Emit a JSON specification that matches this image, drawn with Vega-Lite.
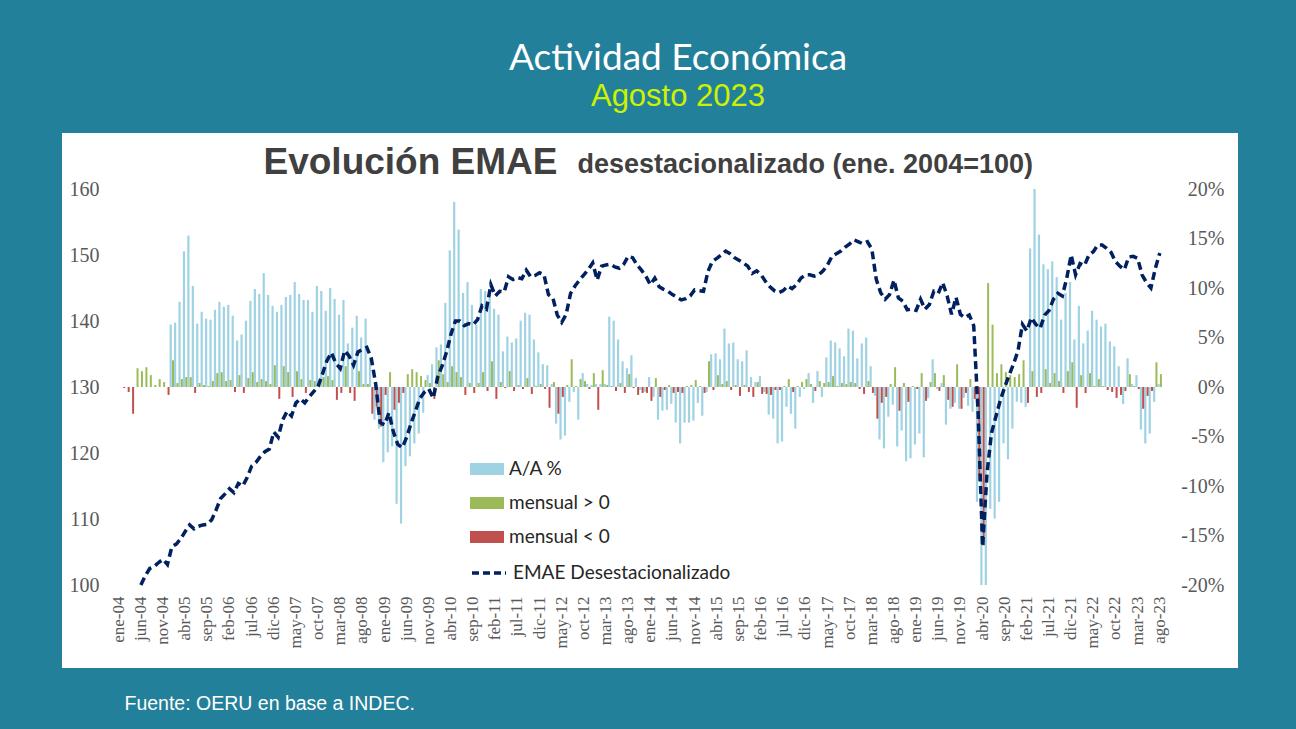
{
"$schema": "https://vega.github.io/schema/vega-lite/v6.json",
"width": 1176, "height": 535,
"autosize": {"type": "none"},
"padding": {"left": 62, "top": 133, "right": 58, "bottom": 61},
"background": "#23809a",
"view": {"fill": "#ffffff", "stroke": null},
"title": {"text": "Actividad Económica", "subtitle": "Agosto 2023", "anchor": "middle", "frame": "group", "dx": 28, "offset": 20, "color": "#ffffff", "font": "Lato", "fontSize": 37, "fontWeight": "normal", "subtitleColor": "#ccf200", "subtitleFont": "Liberation Sans", "subtitleFontSize": 31, "subtitlePadding": 4},
"data": {"values": [
{"m":"ene-04","e":99.4},{"m":"feb-04","e":99.3,"mn":-0.1},{"m":"mar-04","e":98.8,"mn":-0.5},{"m":"abr-04","e":96.1,"mn":-2.7},{"m":"may-04","e":97.9,"mp":1.9},{"m":"jun-04","e":99.6,"mp":1.6},{"m":"jul-04","e":101.4,"mp":2.0},{"m":"ago-04","e":102.5,"mp":1.2},{"m":"sep-04","e":102.8,"mp":0.2},{"m":"oct-04","e":103.4,"mp":0.8},{"m":"nov-04","e":103.9,"mp":0.5},{"m":"dic-04","e":103.1,"mn":-0.8},
{"m":"ene-05","e":105.8,"aa":6.3,"mp":2.7},{"m":"feb-05","e":106.2,"aa":6.5,"mp":0.4},{"m":"mar-05","e":107.0,"aa":8.6,"mp":0.8},{"m":"abr-05","e":108.1,"aa":13.7,"mp":1.0},{"m":"may-05","e":109.1,"aa":15.3,"mp":1.0},{"m":"jun-05","e":108.5,"aa":10.2,"mn":-0.6},{"m":"jul-05","e":108.9,"aa":6.4,"mp":0.4},{"m":"ago-05","e":109.1,"aa":7.6,"mp":0.2},{"m":"sep-05","e":109.2,"aa":6.9,"mp":0.1},{"m":"oct-05","e":109.9,"aa":6.8,"mp":0.6},{"m":"nov-05","e":111.4,"aa":7.8,"mp":1.4},{"m":"dic-05","e":113.1,"aa":8.6,"mp":1.5},
{"m":"ene-06","e":113.8,"aa":8.1,"mp":0.6},{"m":"feb-06","e":114.6,"aa":8.3,"mp":0.7},{"m":"mar-06","e":114.0,"aa":7.2,"mn":-0.5},{"m":"abr-06","e":115.4,"aa":4.7,"mp":1.2},{"m":"may-06","e":115.0,"aa":5.3,"mn":-0.6},{"m":"jun-06","e":116.3,"aa":6.7,"mp":0.9},{"m":"jul-06","e":118.0,"aa":8.7,"mp":1.5},{"m":"ago-06","e":118.6,"aa":9.9,"mp":0.5},{"m":"sep-06","e":119.5,"aa":9.4,"mp":0.8},{"m":"oct-06","e":120.2,"aa":11.5,"mp":0.6},{"m":"nov-06","e":120.6,"aa":9.3,"mp":0.3},{"m":"dic-06","e":123.2,"aa":8.2,"mp":2.2},
{"m":"ene-07","e":122.4,"aa":7.6,"mn":-1.2},{"m":"feb-07","e":125.0,"aa":8.3,"mp":2.1},{"m":"mar-07","e":126.3,"aa":9.1,"mp":1.5},{"m":"abr-07","e":125.6,"aa":9.3,"mn":-1.0},{"m":"may-07","e":127.6,"aa":10.6,"mp":1.6},{"m":"jun-07","e":128.2,"aa":9.4,"mp":0.8},{"m":"jul-07","e":127.6,"aa":8.8,"mn":-0.6},{"m":"ago-07","e":128.5,"aa":8.8,"mp":0.7},{"m":"sep-07","e":129.3,"aa":7.6,"mp":0.6},{"m":"oct-07","e":130.1,"aa":10.2,"mp":0.6},{"m":"nov-07","e":132.0,"aa":9.7,"mp":1.0},{"m":"dic-07","e":134.0,"aa":7.7,"mp":1.1},
{"m":"ene-08","e":135.2,"aa":10.0,"mp":0.7},{"m":"feb-08","e":133.6,"aa":8.9,"mn":-1.3},{"m":"mar-08","e":132.8,"aa":7.3,"mn":-0.6},{"m":"abr-08","e":135.5,"aa":8.8,"mp":2.1},{"m":"may-08","e":134.7,"aa":4.4,"mn":-0.6},{"m":"jun-08","e":133.3,"aa":6.0,"mn":-1.4},{"m":"jul-08","e":135.3,"aa":7.2,"mp":1.6},{"m":"ago-08","e":135.7,"aa":5.0,"mp":0.3},{"m":"sep-08","e":136.0,"aa":6.9,"mp":0.3},{"m":"oct-08","e":134.4,"aa":3.0,"mn":-2.7},{"m":"nov-08","e":130.5,"aa":-3.3,"mn":-2.0},{"m":"dic-08","e":124.6,"aa":-4.2,"mn":-4.0},
{"m":"ene-09","e":124.3,"aa":-7.6,"mn":-0.8},{"m":"feb-09","e":126.1,"aa":-6.6,"mp":1.5},{"m":"mar-09","e":123.2,"aa":-6.0,"mn":-2.3},{"m":"abr-09","e":121.3,"aa":-11.8,"mn":-1.6},{"m":"may-09","e":120.8,"aa":-13.8,"mn":-0.6},{"m":"jun-09","e":122.4,"aa":-8.0,"mp":1.3},{"m":"jul-09","e":124.5,"aa":-7.0,"mp":1.8},{"m":"ago-09","e":126.4,"aa":-5.7,"mp":1.5},{"m":"sep-09","e":128.3,"aa":-4.7,"mp":1.1},{"m":"oct-09","e":129.2,"aa":-2.6,"mp":0.7},{"m":"nov-09","e":129.7,"aa":1.2,"mp":0.4},{"m":"dic-09","e":128.3,"aa":2.3,"mn":-1.2},
{"m":"ene-10","e":131.5,"aa":4.0,"mp":2.7},{"m":"feb-10","e":133.2,"aa":4.3,"mp":1.3},{"m":"mar-10","e":135.3,"aa":8.5,"mp":0.5},{"m":"abr-10","e":138.0,"aa":13.8,"mp":2.1},{"m":"may-10","e":140.0,"aa":18.7,"mp":1.5},{"m":"jun-10","e":140.0,"aa":15.9,"mp":1.0},{"m":"jul-10","e":139.3,"aa":9.5,"mn":-0.8},{"m":"ago-10","e":139.6,"aa":10.6,"mp":0.4},{"m":"sep-10","e":139.4,"aa":8.3,"mn":-0.6},{"m":"oct-10","e":140.2,"aa":6.3,"mp":0.4},{"m":"nov-10","e":142.3,"aa":9.9,"mp":1.5},{"m":"dic-10","e":141.8,"aa":9.7,"mn":-0.4},
{"m":"ene-11","e":145.5,"aa":9.4,"mp":2.6},{"m":"feb-11","e":143.8,"aa":7.9,"mn":-1.2},{"m":"mar-11","e":144.5,"aa":7.3,"mp":0.5},{"m":"abr-11","e":144.4,"aa":3.6,"mn":-0.1},{"m":"may-11","e":146.7,"aa":5.1,"mp":1.6},{"m":"jun-11","e":146.3,"aa":4.5,"mn":-0.4},{"m":"jul-11","e":146.6,"aa":4.9,"mp":0.2},{"m":"ago-11","e":146.4,"aa":6.7,"mn":-0.2},{"m":"sep-11","e":147.7,"aa":7.5,"mp":0.9},{"m":"oct-11","e":146.7,"aa":7.3,"mn":-0.7},{"m":"nov-11","e":146.9,"aa":4.8,"mp":0.1},{"m":"dic-11","e":147.3,"aa":3.5,"mp":0.3},
{"m":"ene-12","e":147.0,"aa":2.3,"mn":-0.2},{"m":"feb-12","e":144.0,"aa":2.2,"mn":-2.1},{"m":"mar-12","e":143.5,"aa":0.3,"mp":0.5},{"m":"abr-12","e":140.9,"aa":-3.7,"mn":-2.7},{"m":"may-12","e":139.8,"aa":-5.3,"mn":-1.0},{"m":"jun-12","e":141.0,"aa":-4.9,"mp":0.2},{"m":"jul-12","e":144.2,"aa":-1.5,"mp":2.8},{"m":"ago-12","e":145.3,"aa":-0.5,"mp":0.1},{"m":"sep-12","e":146.2,"aa":-3.3,"mp":0.8},{"m":"oct-12","e":147.0,"aa":1.4,"mp":0.6},{"m":"nov-12","e":147.8,"aa":0.3,"mn":-0.2},{"m":"dic-12","e":148.8,"aa":0.2,"mp":1.4},
{"m":"ene-13","e":146.2,"aa":0.3,"mn":-2.3},{"m":"feb-13","e":148.3,"aa":0.3,"mp":1.7},{"m":"mar-13","e":148.5,"aa":0.3,"mp":0.2},{"m":"abr-13","e":148.6,"aa":7.1,"mp":0.1},{"m":"may-13","e":148.2,"aa":6.7,"mn":-0.4},{"m":"jun-13","e":148.0,"aa":4.8,"mp":0.4},{"m":"jul-13","e":148.6,"aa":2.6,"mn":-0.6},{"m":"ago-13","e":149.8,"aa":1.9,"mp":1.3},{"m":"sep-13","e":149.6,"aa":3.2,"mn":-0.1},{"m":"oct-13","e":148.5,"aa":0.9,"mn":-0.8},{"m":"nov-13","e":147.7,"aa":-0.3,"mn":-0.6},{"m":"dic-13","e":146.8,"aa":-0.5,"mn":-0.6},
{"m":"ene-14","e":145.5,"aa":1.0,"mn":-1.4},{"m":"feb-14","e":146.5,"aa":-1.0,"mp":0.9},{"m":"mar-14","e":145.2,"aa":-3.3,"mn":-1.0},{"m":"abr-14","e":144.8,"aa":-2.4,"mn":-0.3},{"m":"may-14","e":144.5,"aa":-2.3,"mp":0.2},{"m":"jun-14","e":144.0,"aa":-1.7,"mn":-0.6},{"m":"jul-14","e":143.6,"aa":-3.6,"mn":-0.5},{"m":"ago-14","e":143.2,"aa":-5.7,"mn":-0.6},{"m":"sep-14","e":143.4,"aa":-3.6,"mp":0.1},{"m":"oct-14","e":143.8,"aa":-3.6,"mp":0.2},{"m":"nov-14","e":144.7,"aa":-3.4,"mp":0.7},{"m":"dic-14","e":144.6,"aa":-1.6,"mp":0.1},
{"m":"ene-15","e":144.5,"aa":-2.9,"mn":-0.6},{"m":"feb-15","e":147.5,"aa":-0.5,"mp":2.6},{"m":"mar-15","e":149.0,"aa":3.3,"mn":-0.3},{"m":"abr-15","e":149.5,"aa":3.4,"mp":1.2},{"m":"may-15","e":150.0,"aa":2.8,"mp":0.3},{"m":"jun-15","e":150.6,"aa":5.9,"mp":0.6},{"m":"jul-15","e":150.2,"aa":4.4,"mn":-0.3},{"m":"ago-15","e":149.6,"aa":4.5,"mp":0.2},{"m":"sep-15","e":149.2,"aa":2.8,"mn":-0.9},{"m":"oct-15","e":148.8,"aa":2.6,"mp":0.2},{"m":"nov-15","e":148.3,"aa":3.7,"mn":-0.5},{"m":"dic-15","e":147.2,"aa":1.0,"mn":-1.0},
{"m":"ene-16","e":147.6,"aa":0.5,"mp":0.5},{"m":"feb-16","e":147.0,"aa":1.1,"mn":-0.7},{"m":"mar-16","e":146.0,"aa":-0.5,"mn":-0.7},{"m":"abr-16","e":145.2,"aa":-2.8,"mn":-0.8},{"m":"may-16","e":144.6,"aa":-3.2,"mn":-0.3},{"m":"jun-16","e":144.3,"aa":-5.7,"mn":-0.3},{"m":"jul-16","e":144.6,"aa":-5.5,"mp":0.1},{"m":"ago-16","e":145.3,"aa":-2.0,"mp":0.8},{"m":"sep-16","e":144.9,"aa":-2.7,"mn":-0.5},{"m":"oct-16","e":145.5,"aa":-4.2,"mp":0.1},{"m":"nov-16","e":146.5,"aa":-1.0,"mp":0.5},{"m":"dic-16","e":147.0,"aa":-0.2,"mp":0.8},
{"m":"ene-17","e":147.0,"aa":1.4,"mp":0.3},{"m":"feb-17","e":146.8,"aa":-1.6,"mn":-0.4},{"m":"mar-17","e":147.0,"aa":1.6,"mp":0.6},{"m":"abr-17","e":147.6,"aa":-1.0,"mp":0.4},{"m":"may-17","e":148.5,"aa":3.0,"mp":0.5},{"m":"jun-17","e":149.8,"aa":4.7,"mp":1.1},{"m":"jul-17","e":150.2,"aa":4.5,"mp":0.1},{"m":"ago-17","e":150.6,"aa":3.9,"mp":0.4},{"m":"sep-17","e":151.2,"aa":3.1,"mp":0.3},{"m":"oct-17","e":151.7,"aa":5.9,"mp":0.5},{"m":"nov-17","e":152.3,"aa":5.7,"mp":0.4},{"m":"dic-17","e":152.0,"aa":2.9,"mn":-0.2},
{"m":"ene-18","e":151.7,"aa":4.4,"mn":-0.7},{"m":"feb-18","e":152.0,"aa":5.0,"mp":0.6},{"m":"mar-18","e":150.9,"aa":2.1,"mn":-0.6},{"m":"abr-18","e":146.3,"aa":-0.9,"mn":-3.2},{"m":"may-18","e":144.3,"aa":-5.3,"mn":-1.6},{"m":"jun-18","e":143.3,"aa":-6.2,"mn":-1.0},{"m":"jul-18","e":144.0,"aa":-3.0,"mp":0.3},{"m":"ago-18","e":146.2,"aa":-1.8,"mp":2.0},{"m":"sep-18","e":143.5,"aa":-6.0,"mn":-2.4},{"m":"oct-18","e":143.0,"aa":-4.4,"mp":0.4},{"m":"nov-18","e":141.7,"aa":-7.5,"mn":-1.5},{"m":"dic-18","e":141.8,"aa":-7.2,"mp":0.1},
{"m":"ene-19","e":141.6,"aa":-5.8,"mn":-0.2},{"m":"feb-19","e":143.3,"aa":-4.7,"mp":1.4},{"m":"mar-19","e":141.8,"aa":-7.1,"mn":-1.4},{"m":"abr-19","e":142.5,"aa":-1.1,"mp":0.5},{"m":"may-19","e":144.5,"aa":2.8,"mp":1.4},{"m":"jun-19","e":144.2,"aa":-0.2,"mn":-0.4},{"m":"jul-19","e":145.8,"aa":0.4,"mp":1.2},{"m":"ago-19","e":143.8,"aa":-3.8,"mn":-1.3},{"m":"sep-19","e":141.0,"aa":-2.2,"mn":-2.0},{"m":"oct-19","e":143.6,"aa":-1.6,"mp":2.3},{"m":"nov-19","e":141.0,"aa":-2.2,"mn":-2.2},{"m":"dic-19","e":140.5,"aa":-1.1,"mn":-0.6},
{"m":"ene-20","e":140.9,"aa":-1.9,"mp":0.8},{"m":"feb-20","e":139.3,"aa":-2.5,"mn":-1.2},{"m":"mar-20","e":126.0,"aa":-11.6,"mn":-9.5},{"m":"abr-20","e":105.8,"aa":-26.0,"mn":-16.0},{"m":"may-20","e":116.9,"aa":-20.6,"mp":10.5},{"m":"jun-20","e":123.0,"aa":-12.3,"mp":6.3},{"m":"jul-20","e":125.5,"aa":-13.3,"mp":1.4},{"m":"ago-20","e":128.0,"aa":-11.6,"mp":2.3},{"m":"sep-20","e":130.0,"aa":-5.7,"mp":1.5},{"m":"oct-20","e":131.8,"aa":-7.3,"mp":1.2},{"m":"nov-20","e":133.5,"aa":-4.2,"mp":1.0},{"m":"dic-20","e":135.5,"aa":-1.5,"mp":1.3},
{"m":"ene-21","e":139.5,"aa":-1.6,"mp":2.7},{"m":"feb-21","e":138.5,"aa":-2.0,"mn":-1.6},{"m":"mar-21","e":140.5,"aa":14.0,"mp":1.6},{"m":"abr-21","e":139.5,"aa":29.0,"mn":-1.0},{"m":"may-21","e":138.9,"aa":15.4,"mn":-0.6},{"m":"jun-21","e":140.9,"aa":12.4,"mp":1.8},{"m":"jul-21","e":141.6,"aa":11.9,"mp":0.4},{"m":"ago-21","e":143.3,"aa":12.7,"mp":1.4},{"m":"sep-21","e":144.2,"aa":11.1,"mp":0.6},{"m":"oct-21","e":143.8,"aa":6.8,"mn":-0.6},{"m":"nov-21","e":146.5,"aa":9.5,"mp":1.6},{"m":"dic-21","e":150.0,"aa":10.6,"mp":2.5},
{"m":"ene-22","e":147.0,"aa":4.8,"mn":-2.1},{"m":"feb-22","e":148.7,"aa":8.2,"mp":1.2},{"m":"mar-22","e":148.4,"aa":4.4,"mn":-0.6},{"m":"abr-22","e":150.0,"aa":5.7,"mp":1.4},{"m":"may-22","e":150.5,"aa":7.7,"mp":0.1},{"m":"jun-22","e":151.5,"aa":6.8,"mp":0.8},{"m":"jul-22","e":151.5,"aa":6.1,"mp":0.1},{"m":"ago-22","e":151.0,"aa":6.4,"mn":-0.3},{"m":"sep-22","e":150.4,"aa":4.6,"mn":-0.5},{"m":"oct-22","e":149.0,"aa":4.1,"mn":-1.1},{"m":"nov-22","e":148.3,"aa":2.1,"mn":-0.8},{"m":"dic-22","e":147.8,"aa":-1.7,"mn":-0.4},
{"m":"ene-23","e":149.7,"aa":2.9,"mp":1.3},{"m":"feb-23","e":149.8,"aa":0.3,"mp":0.1},{"m":"mar-23","e":149.5,"aa":1.2,"mn":-0.2},{"m":"abr-23","e":147.0,"aa":-4.3,"mn":-2.2},{"m":"may-23","e":145.8,"aa":-5.7,"mn":-0.9},{"m":"jun-23","e":145.0,"aa":-4.7,"mn":-0.4},{"m":"jul-23","e":148.0,"aa":-1.5,"mp":2.5},{"m":"ago-23","e":150.3,"aa":0.3,"mp":1.3}
]},
"layer": [
{"mark": {"type": "bar", "width": 2.2, "xOffset": -1.2},
 "encoding": {
  "x": {"field": "m", "type": "nominal", "sort": null,
   "scale": {"type": "band", "paddingInner": 0, "paddingOuter": 0, "range": [54.5, 1100],
    "domain": ["ene-04","feb-04","mar-04","abr-04","may-04","jun-04","jul-04","ago-04","sep-04","oct-04","nov-04","dic-04","ene-05","feb-05","mar-05","abr-05","may-05","jun-05","jul-05","ago-05","sep-05","oct-05","nov-05","dic-05","ene-06","feb-06","mar-06","abr-06","may-06","jun-06","jul-06","ago-06","sep-06","oct-06","nov-06","dic-06","ene-07","feb-07","mar-07","abr-07","may-07","jun-07","jul-07","ago-07","sep-07","oct-07","nov-07","dic-07","ene-08","feb-08","mar-08","abr-08","may-08","jun-08","jul-08","ago-08","sep-08","oct-08","nov-08","dic-08","ene-09","feb-09","mar-09","abr-09","may-09","jun-09","jul-09","ago-09","sep-09","oct-09","nov-09","dic-09","ene-10","feb-10","mar-10","abr-10","may-10","jun-10","jul-10","ago-10","sep-10","oct-10","nov-10","dic-10","ene-11","feb-11","mar-11","abr-11","may-11","jun-11","jul-11","ago-11","sep-11","oct-11","nov-11","dic-11","ene-12","feb-12","mar-12","abr-12","may-12","jun-12","jul-12","ago-12","sep-12","oct-12","nov-12","dic-12","ene-13","feb-13","mar-13","abr-13","may-13","jun-13","jul-13","ago-13","sep-13","oct-13","nov-13","dic-13","ene-14","feb-14","mar-14","abr-14","may-14","jun-14","jul-14","ago-14","sep-14","oct-14","nov-14","dic-14","ene-15","feb-15","mar-15","abr-15","may-15","jun-15","jul-15","ago-15","sep-15","oct-15","nov-15","dic-15","ene-16","feb-16","mar-16","abr-16","may-16","jun-16","jul-16","ago-16","sep-16","oct-16","nov-16","dic-16","ene-17","feb-17","mar-17","abr-17","may-17","jun-17","jul-17","ago-17","sep-17","oct-17","nov-17","dic-17","ene-18","feb-18","mar-18","abr-18","may-18","jun-18","jul-18","ago-18","sep-18","oct-18","nov-18","dic-18","ene-19","feb-19","mar-19","abr-19","may-19","jun-19","jul-19","ago-19","sep-19","oct-19","nov-19","dic-19","ene-20","feb-20","mar-20","abr-20","may-20","jun-20","jul-20","ago-20","sep-20","oct-20","nov-20","dic-20","ene-21","feb-21","mar-21","abr-21","may-21","jun-21","jul-21","ago-21","sep-21","oct-21","nov-21","dic-21","ene-22","feb-22","mar-22","abr-22","may-22","jun-22","jul-22","ago-22","sep-22","oct-22","nov-22","dic-22","ene-23","feb-23","mar-23","abr-23","may-23","jun-23","jul-23","ago-23"]},
   "axis": {"orient": "top", "labels": false, "ticks": false, "domain": false, "grid": false,
    "title": "Evolución EMAE", "titleX": 201, "titleY": 40, "titleAlign": "left", "titleBaseline": "alphabetic", "titleAngle": 0,
    "titleFont": "Liberation Sans", "titleFontSize": 37, "titleFontWeight": "bold", "titleColor": "#404040"}},
  "y": {"field": "aa", "type": "quantitative",
   "scale": {"domain": [-20, 20], "range": [452, 56], "clamp": true, "nice": false, "zero": false},
   "axis": {"orient": "right", "values": [-20,-15,-10,-5,0,5,10,15,20], "labelExpr": "datum.value + '%'", "offset": -58, "labelAlign": "right", "labelPadding": 44, "ticks": false, "domain": false, "grid": false, "title": null, "labelFont": "Liberation Serif", "labelFontSize": 20, "labelColor": "#595959"}},
  "color": {"datum": "aa", "type": "nominal",
   "scale": {"domain": ["aa", "mp", "mn"], "range": ["#9fd2e2", "#9bbb59", "#c0504d"]},
   "legend": {"orient": "none", "legendX": 408, "legendY": 319, "title": null, "direction": "vertical", "padding": 0,
    "symbolType": "M-1,-0.35H1V0.35H-1Z", "symbolSize": 1156, "symbolStrokeWidth": 0,
    "labelExpr": "datum.value == 'aa' ? 'A/A %' : datum.value == 'mp' ? 'mensual > 0' : 'mensual < 0'",
    "labelFont": "Lato", "labelFontSize": 19, "labelColor": "#262626", "labelOffset": 5, "rowPadding": 7, "labelLimit": 300}}
 }},
{"mark": {"type": "bar", "width": 2, "xOffset": 1.1},
 "encoding": {
  "x": {"field": "m", "type": "nominal", "sort": null, "axis": null},
  "y": {"field": "mp", "type": "quantitative", "axis": null,
   "scale": {"domain": [-20, 20], "range": [452, 56], "clamp": true, "nice": false, "zero": false}},
  "color": {"datum": "mp", "type": "nominal"}
 }},
{"mark": {"type": "bar", "width": 2, "xOffset": 1.1},
 "encoding": {
  "x": {"field": "m", "type": "nominal", "sort": null, "axis": null},
  "y": {"field": "mn", "type": "quantitative", "axis": null,
   "scale": {"domain": [-20, 20], "range": [452, 56], "clamp": true, "nice": false, "zero": false}},
  "color": {"datum": "mn", "type": "nominal"}
 }},
{"transform": [{"filter": "datum.e >= 99.6"}],
 "mark": {"type": "line", "strokeDash": [8, 4.5], "strokeWidth": 3.5, "interpolate": "linear"},
 "encoding": {
  "x": {"field": "m", "type": "nominal", "sort": null,
   "axis": {"orient": "bottom", "values": ["ene-04","jun-04","nov-04","abr-05","sep-05","feb-06","jul-06","dic-06","may-07","oct-07","mar-08","ago-08","ene-09","jun-09","nov-09","abr-10","sep-10","feb-11","jul-11","dic-11","may-12","oct-12","mar-13","ago-13","ene-14","jun-14","nov-14","abr-15","sep-15","feb-16","jul-16","dic-16","may-17","oct-17","mar-18","ago-18","ene-19","jun-19","nov-19","abr-20","sep-20","feb-21","jul-21","dic-21","may-22","oct-22","mar-23","ago-23"],
    "labelAngle": -90, "labelBaseline": "middle", "labelOverlap": false, "labelFont": "Liberation Serif", "labelFontSize": 17, "labelColor": "#595959",
    "ticks": false, "domain": false, "grid": false, "offset": -78, "labelPadding": 6,
    "title": "Fuente: OERU  en base a INDEC.", "titleX": 62, "titleY": 119, "titleAlign": "left", "titleBaseline": "alphabetic", "titleAngle": 0,
    "titleColor": "#ffffff", "titleFont": "Liberation Sans", "titleFontSize": 19.5, "titleFontWeight": "normal"}},
  "y": {"field": "e", "type": "quantitative",
   "scale": {"domain": [100, 160], "range": [452, 56], "clamp": true, "nice": false, "zero": false},
   "axis": {"orient": "left", "values": [100,110,120,130,140,150,160], "offset": -41, "labelPadding": 4, "ticks": false, "domain": false, "grid": false,
    "labelFont": "Liberation Serif", "labelFontSize": 20, "labelColor": "#595959",
    "title": "desestacionalizado (ene. 2004=100)", "titleAngle": 0, "titleX": 474, "titleY": 39, "titleAlign": "left", "titleBaseline": "alphabetic",
    "titleFont": "Liberation Sans", "titleFontSize": 27, "titleFontWeight": "bold", "titleColor": "#404040"}},
  "stroke": {"datum": "EMAE Desestacionalizado", "type": "nominal",
   "scale": {"range": ["#002060"]},
   "legend": {"orient": "none", "legendX": 408, "legendY": 421, "title": null, "padding": 0,
    "symbolType": "M-1,0H1", "symbolSize": 1156, "symbolStrokeWidth": 3.5, "symbolDash": [7, 4],
    "labelFont": "Lato", "labelFontSize": 19, "labelColor": "#262626", "labelOffset": 5, "labelLimit": 300}}
 }}
],
"resolve": {"scale": {"y": "independent"}}
}
